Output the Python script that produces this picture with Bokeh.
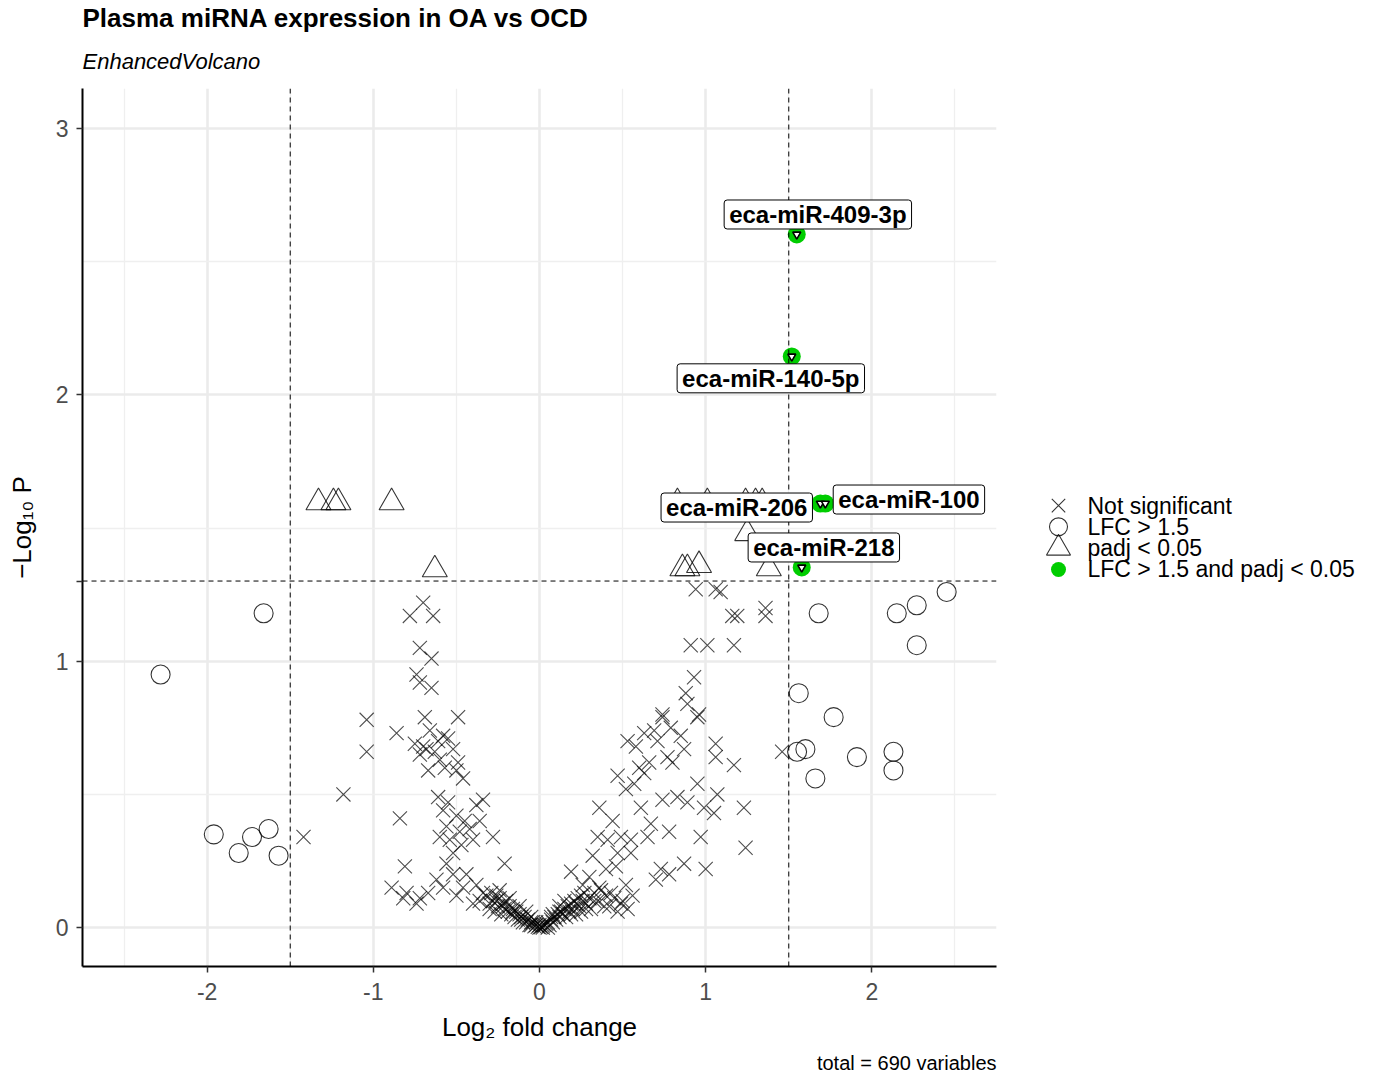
from bokeh.plotting import figure
from bokeh.models import Range1d, FixedTicker, Span, Label, Title
from bokeh.layouts import row
from bokeh.embed import file_html
from bokeh.resources import INLINE
from bokeh.core.properties import value

FONT = "Liberation Sans"

# ---------------- data (log2 fold change, -log10 P) ----------------
# Not significant (crosses)
ns_points = [
    # left arm
    (-0.70, 1.22), (-0.78, 1.17), (-0.64, 1.17), (-0.72, 1.05), (-0.65, 1.01),
    (-0.74, 0.95), (-0.72, 0.92), (-0.65, 0.90), (-1.04, 0.78), (-1.04, 0.66),
    (-1.18, 0.50), (-1.42, 0.34), (-0.84, 0.41), (-0.81, 0.23), (-0.69, 0.79),
    (-0.49, 0.79), (-0.86, 0.73), (-0.75, 0.69), (-0.68, 0.67), (-0.61, 0.70),
    (-0.55, 0.71), (-0.52, 0.67), (-0.72, 0.65), (-0.67, 0.59), (-0.49, 0.62),
    (-0.46, 0.56), (-0.61, 0.49), (-0.55, 0.47), (-0.34, 0.48), (-0.60, 0.34),
    (-0.54, 0.33), (-0.48, 0.36), (-0.42, 0.37), (-0.36, 0.40), (-0.28, 0.34),
    (-0.52, 0.28), (-0.21, 0.24), (-0.89, 0.15), (-0.82, 0.11), (-0.74, 0.09),
    (-0.67, 0.13), (-0.58, 0.15), (-0.52, 0.20), (-0.46, 0.15), (-0.40, 0.09),
    (-0.34, 0.13), (-0.28, 0.10), (-0.24, 0.14), (-0.18, 0.11), (-0.16, 0.06),
    (-0.11, 0.04), (-0.05, 0.02), (-0.66, 0.74), (-0.63, 0.66), (-0.60, 0.63),
    (-0.58, 0.72), (-0.70, 0.68), (-0.57, 0.60), (-0.50, 0.59), (-0.58, 0.44),
    (-0.56, 0.38), (-0.50, 0.42), (-0.47, 0.31), (-0.45, 0.40), (-0.40, 0.33),
    (-0.38, 0.46), (-0.80, 0.13), (-0.72, 0.11), (-0.62, 0.18), (-0.56, 0.24),
    (-0.50, 0.12), (-0.44, 0.20), (-0.38, 0.16), (-0.36, 0.10), (-0.30, 0.07),
    (-0.26, 0.12), (-0.22, 0.08),
    # right arm
    (0.89, 0.84), (0.74, 0.79), (0.95, 0.79), (0.53, 0.70), (0.63, 0.73),
    (0.69, 0.74), (0.79, 0.75), (1.06, 0.69), (0.87, 0.67), (0.77, 0.64),
    (1.06, 0.64), (1.17, 0.61), (1.46, 0.66), (0.47, 0.57), (0.63, 0.58),
    (0.57, 0.54), (0.95, 0.54), (0.83, 0.49), (1.07, 0.50), (0.36, 0.45),
    (0.61, 0.45), (0.74, 0.48), (0.89, 0.47), (0.99, 0.45), (1.05, 0.43),
    (1.23, 0.45), (0.67, 0.39), (0.78, 0.36), (0.97, 0.34), (1.24, 0.30),
    (0.35, 0.34), (0.41, 0.33), (0.49, 0.34), (0.55, 0.33), (0.32, 0.27),
    (0.47, 0.28), (0.55, 0.28), (0.73, 0.22), (0.87, 0.24), (1.00, 0.22),
    (0.70, 0.18), (0.19, 0.21), (0.46, 0.23), (0.26, 0.16), (0.36, 0.15),
    (0.43, 0.13), (0.49, 0.09), (0.15, 0.10), (0.19, 0.05), (0.07, 0.04),
    (0.94, 1.27), (1.06, 1.27), (1.09, 1.26), (1.16, 1.17), (1.19, 1.17),
    (1.36, 1.20), (1.36, 1.17), (0.91, 1.06), (1.01, 1.06), (1.17, 1.06),
    (0.93, 0.94), (0.88, 0.88), (0.96, 0.80), (0.74, 0.80), (0.58, 0.68),
    (0.66, 0.62), (0.71, 0.70), (0.80, 0.62), (0.85, 0.72), (0.60, 0.60),
    (0.52, 0.52), (0.44, 0.40), (0.40, 0.22), (0.30, 0.19), (0.25, 0.12),
    (0.33, 0.10), (0.39, 0.08), (0.28, 0.07), (0.22, 0.09), (0.12, 0.06),
    (0.65, 0.34), (0.78, 0.20), (0.52, 0.16), (0.56, 0.12),
    # centre cluster
    (-0.32, 0.12), (-0.30, 0.09), (-0.29, 0.13), (-0.27, 0.06), (-0.26, 0.10),
    (-0.25, 0.08), (-0.24, 0.11), (-0.23, 0.05), (-0.22, 0.09), (-0.21, 0.07),
    (-0.20, 0.10), (-0.19, 0.06), (-0.18, 0.08), (-0.17, 0.05), (-0.16, 0.07),
    (-0.15, 0.04), (-0.14, 0.06), (-0.13, 0.03), (-0.12, 0.05), (-0.11, 0.03),
    (-0.10, 0.02), (-0.09, 0.04), (-0.08, 0.02), (-0.07, 0.03), (-0.06, 0.01),
    (-0.05, 0.01), (-0.04, 0.02), (-0.03, 0.005), (-0.02, 0.01), (-0.01, 0.003),
    (0.00, 0.00), (0.00, 0.01), (0.01, 0.002), (0.02, 0.008), (0.03, 0.01),
    (0.04, 0.015), (0.05, 0.02), (0.06, 0.01), (0.07, 0.03), (0.08, 0.02),
    (0.09, 0.04), (0.10, 0.03), (0.11, 0.05), (0.12, 0.04), (0.13, 0.06),
    (0.14, 0.05), (0.15, 0.07), (0.16, 0.04), (0.17, 0.08), (0.18, 0.06),
    (0.19, 0.09), (0.20, 0.07), (0.21, 0.10), (0.22, 0.05), (0.23, 0.11),
    (0.24, 0.08), (0.25, 0.06), (0.26, 0.10), (0.27, 0.13), (0.28, 0.09),
    (0.30, 0.11), (0.31, 0.07), (0.33, 0.13), (0.35, 0.10), (0.37, 0.14),
    (0.40, 0.12), (0.42, 0.08), (0.45, 0.11), (0.47, 0.06), (0.50, 0.10),
    (0.53, 0.07), (-0.02, 0.02), (0.02, 0.00), (-0.05, 0.04), (0.05, 0.00),
    (-0.08, 0.06), (0.08, 0.05), (-0.12, 0.08), (0.12, 0.08),
]
ns_x = [pt[0] for pt in ns_points]
ns_y = [pt[1] for pt in ns_points]

# |LFC| > 1.5 only (open circles)
lfc_x = [-2.28, -1.66, -1.96, -1.81, -1.73, -1.63, -1.57,
         2.45, 2.27, 2.15, 1.68, 2.27, 1.56, 1.77, 1.55, 1.60, 1.91, 2.13, 2.13, 1.66]
lfc_y = [0.95, 1.18, 0.35, 0.28, 0.34, 0.37, 0.27,
         1.26, 1.21, 1.18, 1.18, 1.06, 0.88, 0.79, 0.66, 0.67, 0.64, 0.66, 0.59, 0.56]

# padj < 0.05 only (open triangles)
padj_x = [-1.33, -1.24, -1.21, -0.89, -0.63,
          0.83, 1.01, 1.24, 1.30, 1.34, 1.25, 0.86, 0.89, 0.96, 1.38]
padj_y = [1.596, 1.596, 1.596, 1.596, 1.344,
          1.596, 1.596, 1.596, 1.596, 1.596, 1.48, 1.348, 1.348, 1.36, 1.348]

# LFC > 1.5 and padj < 0.05 (green, labelled)
sig_names = ["eca-miR-409-3p", "eca-miR-140-5p", "eca-miR-206", "eca-miR-100", "eca-miR-218"]
sig_x = [1.548, 1.518, 1.69, 1.72, 1.578]
sig_y = [2.602, 2.144, 1.592, 1.592, 1.352]
# label box centres (repelled)
label_x = [1.675, 1.392, 1.187, 2.223, 1.711]
label_y = [2.677, 2.062, 1.577, 1.607, 1.427]

fc_cutoff = 1.5
p_cutoff_log = 1.30103

legend_labels = ["Not significant", "LFC > 1.5", "padj < 0.05", "LFC > 1.5 and padj < 0.05"]
caption = "total = 690 variables"

x_ticks = [-2, -1, 0, 1, 2]
x_tick_labels = ["-2", "-1", "0", "1", "2"]
x_minor = [-2.5, -1.5, -0.5, 0.5, 1.5, 2.5]
y_ticks = [0, 1, 2, 3]
y_minor = [0.5, 1.5, 2.5]

# ---------------- main plot ----------------
p = figure(width=1040, height=1082,
           x_range=Range1d(-2.75, 2.75), y_range=Range1d(-0.146, 3.15),
           output_backend="svg", toolbar_location=None,
           min_border_left=82, min_border_right=44,
           min_border_top=88, min_border_bottom=116)
p.outline_line_color = None
p.background_fill_color = "white"
p.border_fill_color = "white"

p.xaxis.ticker = FixedTicker(ticks=x_ticks, minor_ticks=x_minor)
p.xaxis.major_label_overrides = {t: s for t, s in zip(x_ticks, x_tick_labels)}
p.yaxis.ticker = FixedTicker(ticks=y_ticks + [1.3], minor_ticks=y_minor)
p.yaxis.major_label_overrides = {1.3: ""}
p.xgrid.ticker = FixedTicker(ticks=x_ticks, minor_ticks=x_minor)
p.ygrid.ticker = FixedTicker(ticks=y_ticks, minor_ticks=y_minor)

for g in (p.xgrid, p.ygrid):
    g.grid_line_color = "#EBEBEB"
    g.grid_line_width = 2.6
    g.minor_grid_line_color = "#EFEFEF"
    g.minor_grid_line_width = 1.3

for ax in (p.xaxis, p.yaxis):
    ax.axis_line_color = "black"
    ax.axis_line_width = 2
    ax.major_tick_line_color = "#333333"
    ax.major_tick_line_width = 1.5
    ax.major_tick_out = 6
    ax.major_tick_in = 0
    ax.minor_tick_line_color = None
    ax.major_label_text_font = FONT
    ax.major_label_text_font_size = "23px"
    ax.major_label_text_color = "#4D4D4D"
    ax.axis_label_text_font = FONT
    ax.axis_label_text_font_size = "26px"
    ax.axis_label_text_font_style = "normal"
    ax.axis_label_text_color = "black"

p.xaxis.axis_label = "Log\u2082 fold change"
p.yaxis.axis_label = "\u2212Log\u2081\u2080 P"
p.xaxis.major_label_standoff = 10
p.yaxis.major_label_standoff = 8
p.xaxis.axis_label_standoff = 9
p.yaxis.axis_label_standoff = 16

# cutoff lines
for loc in (-fc_cutoff, fc_cutoff):
    p.add_layout(Span(location=loc, dimension="height", line_color="black",
                      line_width=1, line_dash="5 4"))
p.add_layout(Span(location=p_cutoff_log, dimension="width", line_color="black",
                  line_width=1, line_dash="5 4"))

# points
p.scatter(ns_x, ns_y, marker="x", size=20, line_color="black", line_alpha=0.7, line_width=1.1)
p.scatter(lfc_x, lfc_y, marker="circle", size=19, fill_color=None,
          line_color="black", line_alpha=0.8, line_width=1.1)
p.scatter(padj_x, padj_y, marker="triangle", size=25, fill_color=None,
          line_color="black", line_alpha=0.8, line_width=1.1)
p.scatter(sig_x, sig_y, marker="circle", size=18, fill_color="#00CD00", line_color=None)
p.scatter(sig_x, sig_y, marker="inverted_triangle", size=8, fill_color="white",
          line_color="black", line_width=1.6)

# labels
for name, lx, ly in zip(sig_names, label_x, label_y):
    p.add_layout(Label(x=lx, y=ly, text=name, text_align="center", text_baseline="middle",
                       text_font=FONT, text_font_size="24px", text_font_style="bold",
                       text_color="black", background_fill_color="white",
                       border_line_color="black", border_line_width=1,
                       border_radius=3, padding=(5, 1)))

# titles
p.add_layout(Title(text="EnhancedVolcano", text_font=FONT, text_font_size="22px",
                   text_font_style="italic", text_color="black", align="left",
                   text_line_height=1.0, standoff=29), "above")
p.add_layout(Title(text="Plasma miRNA expression in OA vs OCD", text_font=FONT,
                   text_font_size="26px", text_font_style="bold", text_color="black",
                   align="left", text_line_height=1.0, standoff=0), "above")
p.add_layout(Title(text=caption, text_font=FONT, text_font_size="20px",
                   text_font_style="normal", text_color="black", align="right",
                   standoff=11), "below")

# ---------------- legend panel ----------------
# (frame of this panel is aligned with the main plot's frame by the row layout)
leg = figure(width=334, height=1082, x_range=Range1d(0, 334), y_range=Range1d(21.64, -19.58),
             output_backend="svg", toolbar_location=None,
             x_axis_location=None, y_axis_location=None,
             min_border_left=0, min_border_right=0, min_border_top=0, min_border_bottom=0)
leg.grid.visible = False
leg.outline_line_color = None
leg.background_fill_color = "white"
leg.border_fill_color = "white"

rows = list(range(len(legend_labels)))
leg.scatter([18], [rows[0]], marker="x", size=19, line_color="black", line_alpha=0.8, line_width=1.1)
leg.scatter([18], [rows[1]], marker="circle", size=18, fill_color=None, line_color="black",
            line_alpha=0.8, line_width=1.1)
leg.scatter([18], [rows[2]], marker="triangle", size=24, fill_color=None, line_color="black",
            line_alpha=0.8, line_width=1.1)
leg.scatter([18], [rows[3]], marker="circle", size=15, fill_color="#00CD00", line_color=None)
leg.text(x=[47] * len(rows), y=rows, text=legend_labels, text_baseline="middle",
         text_align="left", text_font=value(FONT), text_font_size="23px", text_color="black")

layout = row(p, leg)
open("out.html", "w").write(file_html(layout, INLINE))
